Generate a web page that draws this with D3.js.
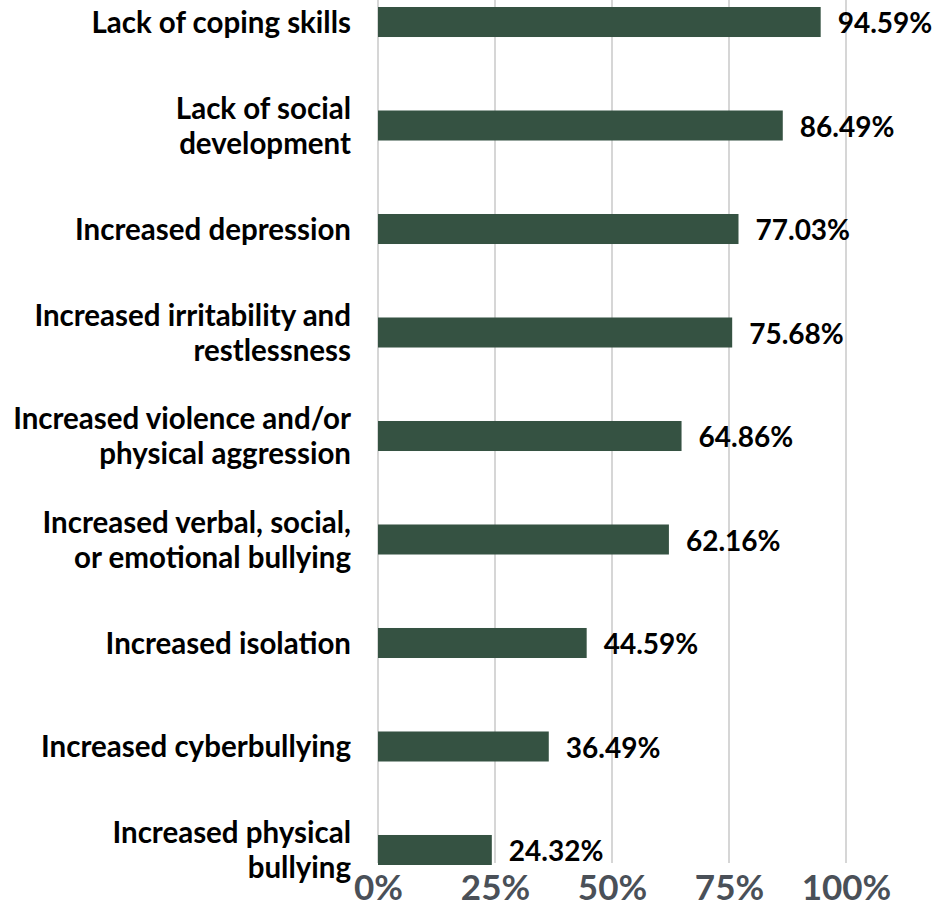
<!DOCTYPE html>
<html>
<head>
<meta charset="utf-8">
<script src="https://cdn.jsdelivr.net/npm/d3@7"></script>
<style>
  body { margin: 0; background: #fff; }
  svg { display: block; font-family: Lato, "Noto Sans", sans-serif; }
</style>
</head>
<body>
<div id="chart"></div>
<script>
// Categories (top to bottom), line breaks as in the picture
const categories = [
  "Lack of coping skills",
  "Lack of social\ndevelopment",
  "Increased depression",
  "Increased irritability and\nrestlessness",
  "Increased violence and/or\nphysical aggression",
  "Increased verbal, social,\nor emotional bullying",
  "Increased isolation",
  "Increased cyberbullying",
  "Increased physical\nbullying"
];

// Share of respondents
const values = [0.9459, 0.8649, 0.7703, 0.7568, 0.6486, 0.6216, 0.4459, 0.3649, 0.2432];

// Axis ticks
const tickValues = [0, 0.25, 0.5, 0.75, 1];

const width = 937, height = 915;

const svg = d3.select("#chart")
  .append("svg")
  .attr("width", width)
  .attr("height", height);

// Scales
const x = d3.scaleLinear()
  .domain([0, 1])
  .range([378, 846]);

const y = d3.scaleBand()
  .domain(categories)
  .range([7, 865])
  .paddingInner(0.71)
  .paddingOuter(0);

// Gridlines (incl. the zero line)
svg.append("g")
  .selectAll("line")
  .data(tickValues)
  .enter()
  .append("line")
  .attr("x1", d => x(d))
  .attr("x2", d => x(d))
  .attr("y1", 0)
  .attr("y2", 863)
  .attr("stroke", "#d6d6d6")
  .attr("stroke-width", 2);

// Bars
svg.selectAll(".bar")
  .data(values)
  .enter()
  .append("rect")
  .attr("class", "bar")
  .attr("x", x(0))
  .attr("y", (d, i) => y(categories[i]))
  .attr("width", d => x(d) - x(0))
  .attr("height", y.bandwidth())
  .attr("fill", "#355242");

// Value labels
svg.selectAll(".value")
  .data(values)
  .enter()
  .append("text")
  .attr("class", "value")
  .attr("x", d => x(d) + 17)
  .attr("y", (d, i) => y(categories[i]) + y.bandwidth() / 2)
  .attr("dy", "0.4em")
  .attr("font-size", 28)
  .attr("font-weight", 700)
  .attr("fill", "#000")
  .text(d => (d * 100).toFixed(2) + "%");

// Category labels, multi-line, centred on the bar
const lineH = 35;
svg.selectAll(".cat")
  .data(categories)
  .enter()
  .append("text")
  .attr("class", "cat")
  .attr("text-anchor", "end")
  .attr("font-size", 29.5)
  .attr("font-weight", 700)
  .attr("fill", "#000")
  .each(function (d) {
    const lines = d.split("\n");
    const cy = y(d) + y.bandwidth() / 2;
    const top = cy - (lines.length - 1) * lineH / 2;
    d3.select(this).selectAll("tspan")
      .data(lines)
      .enter()
      .append("tspan")
      .attr("x", 351)
      .attr("y", (l, j) => top + j * lineH)
      .attr("dy", "0.36em")
      .text(l => l);
  });

// X axis (labels only)
const xAxis = svg.append("g")
  .attr("transform", "translate(0,872)")
  .call(d3.axisBottom(x)
    .tickValues(tickValues)
    .tickFormat(d3.format(".0%"))
    .tickSize(0)
    .tickPadding(3));

xAxis.select(".domain").remove();
xAxis.selectAll("text")
  .attr("font-family", "Lato, 'Noto Sans', sans-serif")
  .attr("font-size", 35)
  .attr("font-weight", 700)
  .attr("fill", "#4a5058");
</script>
</body>
</html>
